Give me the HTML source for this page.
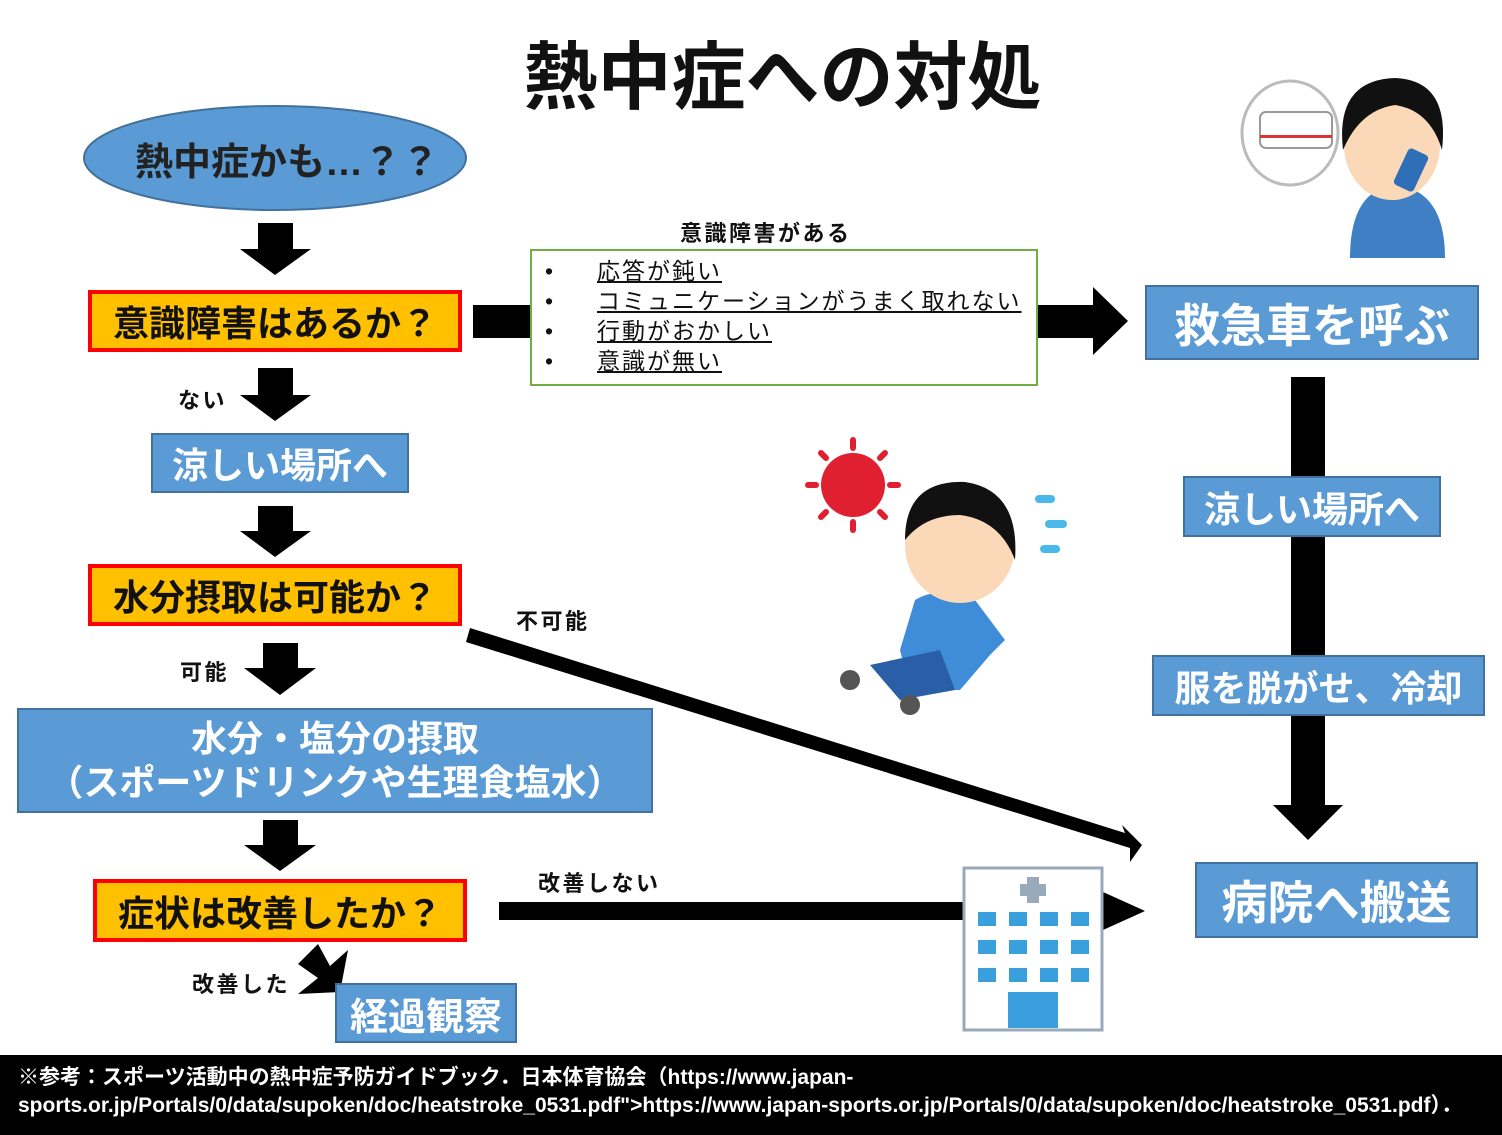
<!DOCTYPE html>
<html><head><meta charset="utf-8"><style>
body{margin:0;width:1502px;height:1135px;position:relative;background:#fff;overflow:hidden;font-family:"Liberation Sans","Noto Sans CJK JP",sans-serif}
.a{position:absolute;box-sizing:border-box;display:flex;align-items:center;justify-content:center;white-space:nowrap}
.y{background:#ffc000;border:4px solid #f00;font-weight:bold;color:#111;font-size:36px}
.b{background:#5b9bd5;border:2px solid #41719c;color:#fff;font-weight:bold}
.l{position:absolute;font-size:22px;letter-spacing:2.5px;color:#111;white-space:nowrap;font-weight:bold}
svg{position:absolute;left:0;top:0}
</style></head><body>
<svg width="1502" height="1135">
<ellipse cx="275" cy="158" rx="191" ry="52" fill="#5b9bd5" stroke="#41719c" stroke-width="2"/>
<g fill="#000">
<polygon points="258,223 293,223 293,249 311,249 275,275 240,249 258,249"/>
<polygon points="258,368 293,368 293,395 311,395 275,421 240,395 258,395"/>
<polygon points="258,506 293,506 293,531 311,531 275,557 240,531 258,531"/>
<polygon points="263,643 298,643 298,668 316,668 280,695 244,668 263,668"/>
<polygon points="263,820 298,820 298,845 316,845 280,871 244,845 263,845"/>
<polygon points="318,944 298,964 318,978 298,994 340,992 348,950 330,966"/>
<rect x="473" y="305" width="60" height="33"/>
<polygon points="1037,305 1093,305 1093,287 1128,321 1093,355 1093,338 1037,338"/>
<rect x="1291" y="377" width="34" height="430"/>
<polygon points="1273,805 1343,805 1308,840"/>
<polygon points="470,628 1125,833 1122,825 1142,845 1130,862 1130,848 466,642"/>
<rect x="499" y="902" width="610" height="18"/>
<polygon points="1103,892 1145,911 1103,930"/>
<rect x="0" y="1055" width="1502" height="80"/>
</g>
<rect x="531" y="250" width="506" height="135" fill="#fff" stroke="#70ad47" stroke-width="2"/>
<rect x="964" y="868" width="138" height="162" fill="#fff" stroke="#9ab" stroke-width="3"/>
<rect x="1027" y="877" width="12" height="26" fill="#9ab"/><rect x="1020" y="884" width="26" height="12" fill="#9ab"/>
<g fill="#3aa0dd">
<rect x="978" y="912" width="18" height="14"/><rect x="1009" y="912" width="18" height="14"/><rect x="1040" y="912" width="18" height="14"/><rect x="1071" y="912" width="18" height="14"/>
<rect x="978" y="940" width="18" height="14"/><rect x="1009" y="940" width="18" height="14"/><rect x="1040" y="940" width="18" height="14"/><rect x="1071" y="940" width="18" height="14"/>
<rect x="978" y="968" width="18" height="14"/><rect x="1009" y="968" width="18" height="14"/><rect x="1040" y="968" width="18" height="14"/><rect x="1071" y="968" width="18" height="14"/>
<rect x="1008" y="992" width="50" height="36"/></g>
<ellipse cx="1290" cy="133" rx="48" ry="52" fill="#fff" stroke="#bbb" stroke-width="3"/>
<rect x="1260" y="112" width="72" height="36" rx="6" fill="#fff" stroke="#999" stroke-width="2"/>
<rect x="1260" y="135" width="72" height="3" fill="#d33"/>
<path d="M1350 258 Q1350 190 1395 185 Q1445 190 1445 258Z" fill="#3f7fc4"/>
<ellipse cx="1392" cy="145" rx="48" ry="55" fill="#fbd9b8"/>
<path d="M1343 150 Q1335 80 1395 78 Q1450 80 1442 150 Q1430 110 1395 105 Q1360 110 1343 150Z" fill="#111"/>
<rect x="1400" y="150" width="22" height="40" rx="4" fill="#2e6fb8" transform="rotate(25 1411 170)"/>
<circle cx="853" cy="485" r="32" fill="#e02030"/>
<g stroke="#e02030" stroke-width="6" stroke-linecap="round">
<line x1="853" y1="440" x2="853" y2="448"/><line x1="853" y1="522" x2="853" y2="530"/>
<line x1="808" y1="485" x2="816" y2="485"/><line x1="890" y1="485" x2="898" y2="485"/>
<line x1="821" y1="453" x2="826" y2="458"/><line x1="880" y1="512" x2="885" y2="517"/>
<line x1="821" y1="517" x2="826" y2="512"/><line x1="880" y1="458" x2="885" y2="453"/></g>
<path d="M915 600 Q940 585 975 600 L1005 640 L990 655 L960 690 L910 690 L900 650Z" fill="#3f8dd8"/>
<path d="M870 665 L940 650 L955 690 L900 700Z" fill="#2a5fa8"/>
<ellipse cx="960" cy="545" rx="55" ry="58" fill="#fbd9b8"/>
<path d="M905 540 Q905 480 965 482 Q1020 490 1015 560 Q1000 520 960 515 Q925 515 905 540Z" fill="#111"/>
<circle cx="850" cy="680" r="10" fill="#555"/><circle cx="910" cy="705" r="10" fill="#555"/>
<g fill="#4ab8e8"><rect x="1035" y="495" width="20" height="8" rx="4"/><rect x="1045" y="520" width="22" height="8" rx="4"/><rect x="1040" y="545" width="20" height="8" rx="4"/></g>
</svg>
<div class="a" style="left:0;top:18px;width:1565px;font-size:74px;font-weight:bold;color:#111">熱中症への対処</div>
<div class="a" style="left:135px;top:130px;width:330px;height:56px;justify-content:flex-start;font-size:38px;font-weight:bold;color:#222">熱中症かも…？？</div>
<div class="a y" style="left:88px;top:290px;width:374px;height:62px">意識障害はあるか？</div>
<div class="l" style="left:178px;top:383px">ない</div>
<div class="a b" style="left:151px;top:433px;width:258px;height:60px;font-size:36px">涼しい場所へ</div>
<div class="a y" style="left:88px;top:564px;width:374px;height:62px">水分摂取は可能か？</div>
<div class="l" style="left:180px;top:655px">可能</div>
<div class="a b" style="left:17px;top:708px;width:636px;height:105px;font-size:36px;flex-direction:column;line-height:44px;text-align:center"><div>水分・塩分の摂取</div><div>（スポーツドリンクや生理食塩水）</div></div>
<div class="a y" style="left:93px;top:879px;width:374px;height:63px">症状は改善したか？</div>
<div class="l" style="left:192px;top:967px">改善した</div>
<div class="a b" style="left:335px;top:983px;width:182px;height:60px;font-size:38px">経過観察</div>
<div class="l" style="left:680px;top:216px">意識障害がある</div>
<div style="position:absolute;left:545px;top:256px;font-size:23px;letter-spacing:2px;line-height:30px;color:#111">
<div>•&nbsp;&nbsp;&nbsp;&nbsp;&nbsp;<u>応答が鈍い</u></div>
<div>•&nbsp;&nbsp;&nbsp;&nbsp;&nbsp;<u>コミュニケーションがうまく取れない</u></div>
<div>•&nbsp;&nbsp;&nbsp;&nbsp;&nbsp;<u>行動がおかしい</u></div>
<div>•&nbsp;&nbsp;&nbsp;&nbsp;&nbsp;<u>意識が無い</u></div></div>
<div class="a b" style="left:1145px;top:285px;width:334px;height:75px;font-size:46px">救急車を呼ぶ</div>
<div class="a b" style="left:1183px;top:476px;width:258px;height:61px;font-size:36px">涼しい場所へ</div>
<div class="a b" style="left:1152px;top:655px;width:333px;height:61px;font-size:36px">服を脱がせ、冷却</div>
<div class="a b" style="left:1195px;top:862px;width:283px;height:76px;font-size:46px">病院へ搬送</div>
<div class="l" style="left:516px;top:604px">不可能</div>
<div class="l" style="left:538px;top:866px">改善しない</div>
<div style="position:absolute;left:18px;top:1064px;color:#fff;font-weight:bold;font-size:21px;line-height:28px;white-space:nowrap">※参考：スポーツ活動中の熱中症予防ガイドブック．日本体育協会（https://www.japan-<br>sports.or.jp/Portals/0/data/supoken/doc/heatstroke_0531.pdf"&gt;https://www.japan-sports.or.jp/Portals/0/data/supoken/doc/heatstroke_0531.pdf）．</div>
</body></html>
